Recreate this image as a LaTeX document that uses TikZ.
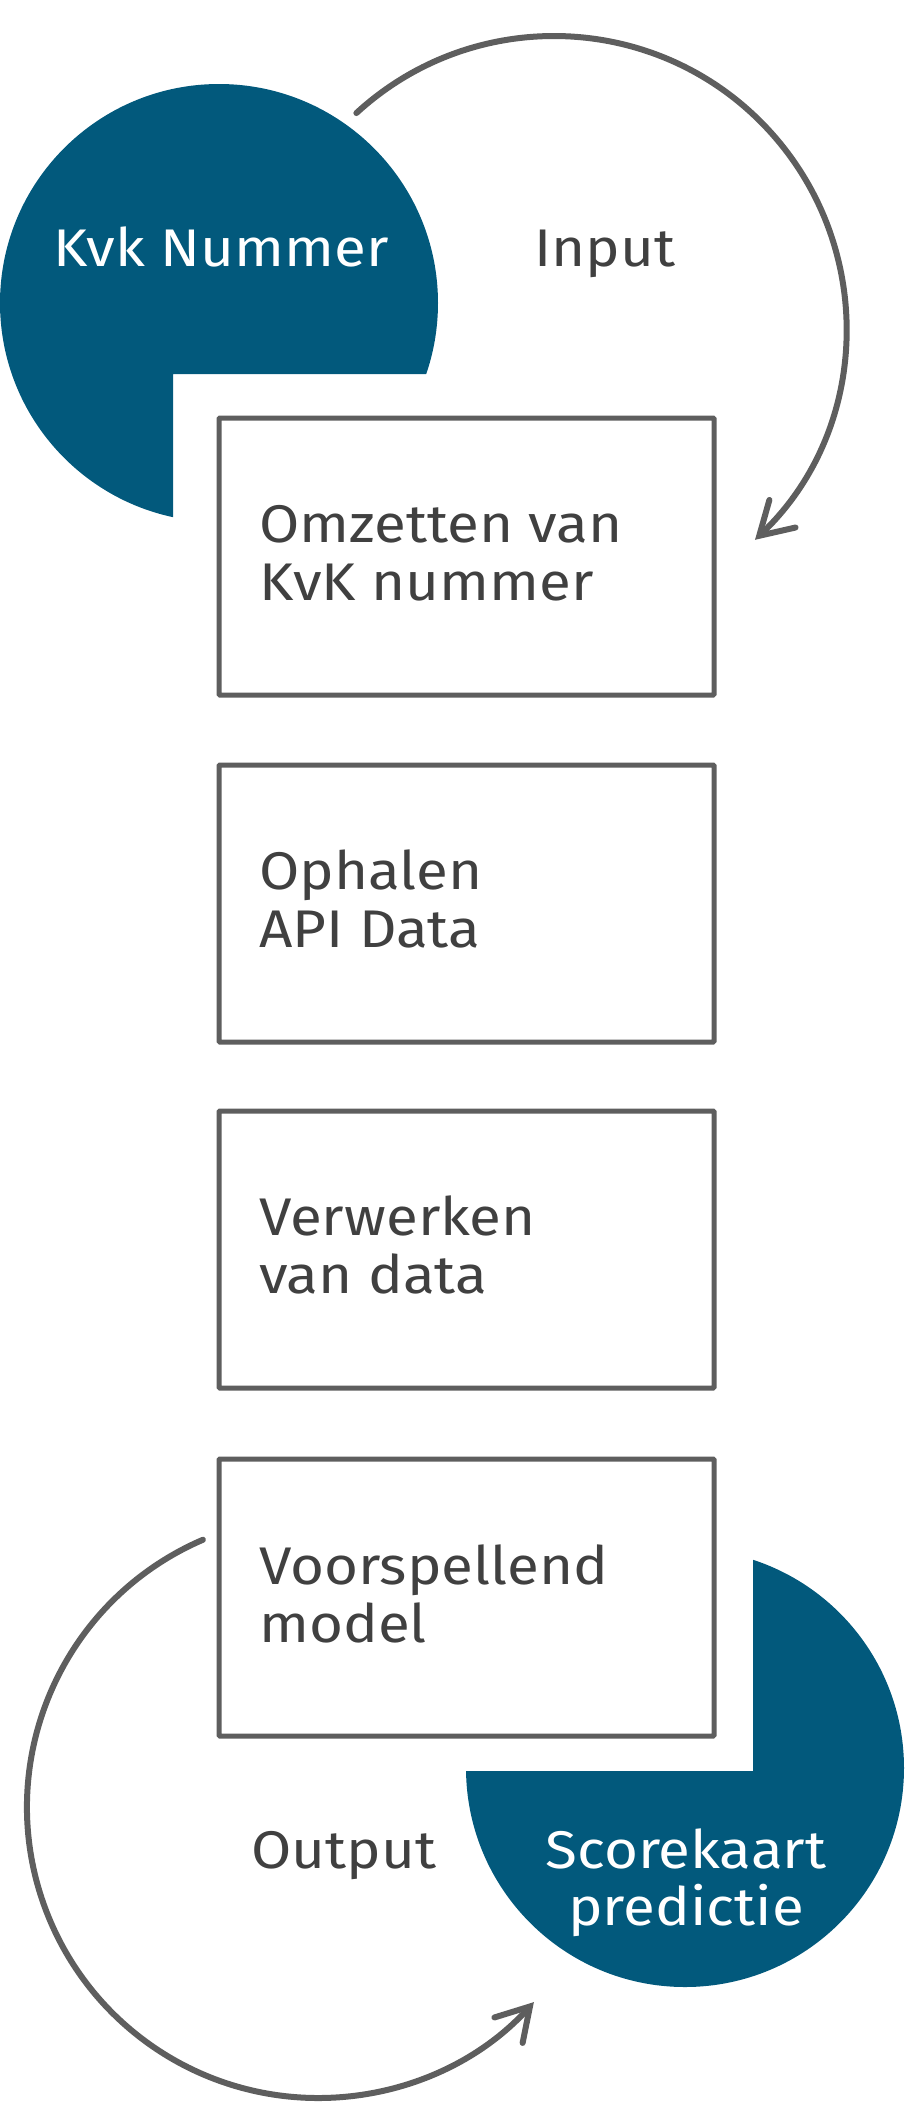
\documentclass[tikz,border=0pt]{standalone}
\usepackage{fontspec}
\setmainfont{Fira Sans}[FakeStretch=1.1]
\usetikzlibrary{arrows.meta}
\definecolor{ingblue}{RGB}{2,89,124}
\definecolor{linegray}{RGB}{94,94,94}
\definecolor{textgray}{RGB}{64,64,64}
\begin{document}
\begin{tikzpicture}[x=1pt,y=1pt,
  stepbox/.style={draw=linegray, line width=5pt, rounded corners=1pt, minimum width=495pt, minimum height=277pt, inner sep=0pt},
  boxtext/.style={anchor=base west, inner sep=0pt, text=textgray, font=\fontsize{53}{58}\selectfont},
  labeltext/.style={anchor=base, inner sep=0pt, text=textgray, font=\fontsize{53}{58}\selectfont},
  bluetext/.style={anchor=base, inner sep=0pt, text=white, font=\fontsize{53}{58}\selectfont},
  arrowline/.style={draw=linegray, line width=6pt, line cap=round,
    -{Straight Barb[length=32pt, width=38pt, line cap=round, line join=miter]}}]
\useasboundingbox (0,0) rectangle (905,-2102);
% top blue shape
\begin{scope}
  \clip (0,0) -- (905,0) -- (905,-374) -- (173,-374) -- (173,-2102) -- (0,-2102) -- cycle;
  \fill[ingblue] (219,-303) circle[radius=219];
\end{scope}
% bottom blue shape
\begin{scope}
  \clip (753,0) -- (905,0) -- (905,-2102) -- (0,-2102) -- (0,-1771) -- (753,-1771) -- cycle;
  \fill[ingblue] (685,-1768) circle[radius=219];
\end{scope}
% boxes
\node[stepbox] (box1) at (466.5,-556.5) {};
\node[stepbox] (box2) at (466.5,-903.5) {};
\node[stepbox] (box3) at (466.5,-1249.5) {};
\node[stepbox] (box4) at (466.5,-1597.5) {};
% box texts
\node[boxtext] (t1a) at (259,-542) {Omzetten van};
\node[boxtext] (t1b) at (259,-600) {KvK nummer};
\node[boxtext] (t2a) at (259,-889) {Ophalen};
\node[boxtext] (t2b) at (259,-947) {API Data};
\node[boxtext] (t3a) at (259,-1235) {Verwerken};
\node[boxtext] (t3b) at (259,-1293) {van data};
\node[boxtext] (t4a) at (259,-1584) {Voorspellend};
\node[boxtext] (t4b) at (259,-1642) {model};
% labels
\node[bluetext] (kvk) at (221,-266) {Kvk Nummer};
\node[labeltext] (input) at (605,-266) {Input};
\node[labeltext] (output) at (344,-1868) {Output};
\node[bluetext] (score1) at (686,-1868) {Scorekaart};
\node[bluetext] (score2) at (686,-1925) {predictie};
% arrows
\coordinate (c1) at (554,-328);
\coordinate (c2) at (318,-1807);
\draw[arrowline] (c1) ++(132.6:292) arc[start angle=132.6, end angle=-46.5, radius=292];
\draw[arrowline] (c2) ++(113.3:291) arc[start angle=113.3, end angle=317.9, radius=291];
\end{tikzpicture}
\end{document}
